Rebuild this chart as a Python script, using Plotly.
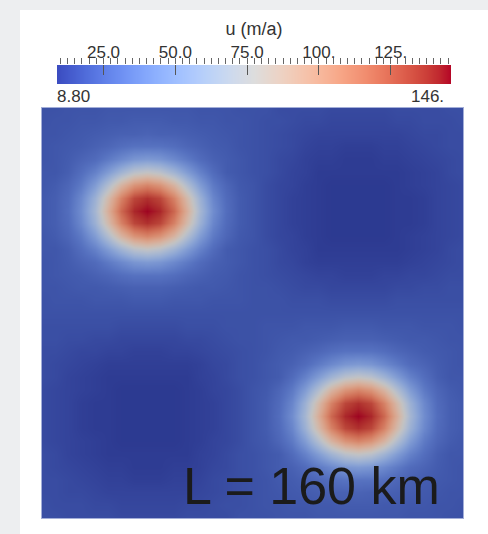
import plotly.graph_objects as go

W, H = 488, 534

# ---------------- data ----------------
x_km = [0, 5, 10, 15, 20, 25, 30, 35, 40, 45, 50, 55, 60, 65, 70, 75, 80,
        85, 90, 95, 100, 105, 110, 115, 120, 125, 130, 135, 140, 145, 150, 155, 160]
y_km = [0, 5, 10, 15, 20, 25, 30, 35, 40, 45, 50, 55, 60, 65, 70, 75, 80,
        85, 90, 95, 100, 105, 110, 115, 120, 125, 130, 135, 140, 145, 150, 155, 160]

# surface speed u (m/a), rows from y = 0 km (bottom) to y = 160 km (top)
u_rows = [
    [17,17,16,16,16,16,15,15,15,15,15,16,16,16,16,18,18,18,19,19,19,20,20,20,20,20,20,20,19,19,19,18,18],
    [17,16,16,16,15,15,14,14,14,14,14,15,15,16,17,17,18,19,19,20,20,21,21,22,22,22,21,21,20,20,19,19,18],
    [16,16,15,15,14,13,13,13,13,13,13,13,14,15,16,17,18,19,20,21,22,23,24,24,25,24,24,23,22,21,20,19,19],
    [16,16,15,14,13,12,12,11,11,11,12,12,13,15,16,17,18,19,21,22,24,26,29,31,31,31,29,26,24,22,21,20,19],
    [16,15,14,13,12,11,11,10,10,10,11,11,12,14,15,17,18,20,22,24,28,34,40,46,48,46,40,34,28,25,22,20,19],
    [16,15,13,12,11,10,10,10,10,10,10,10,12,13,15,17,18,20,22,28,37,49,62,73,77,73,62,49,37,29,23,20,20],
    [15,14,13,12,11,10,9,9,9,9,9,10,11,13,14,16,19,21,26,34,49,69,91,107,113,107,91,69,49,34,26,22,20],
    [15,14,13,11,10,10,9,9,9,9,9,10,11,12,14,16,19,22,28,39,60,87,114,133,139,133,114,87,60,40,28,23,21],
    [15,14,13,11,10,10,9,9,9,9,9,10,11,12,14,16,19,22,29,42,64,94,123,141,146,141,123,94,64,42,29,23,21],
    [15,14,13,11,10,10,9,9,9,9,9,10,11,12,14,16,19,22,28,39,60,87,114,133,139,133,114,87,60,40,28,23,21],
    [15,14,13,12,11,10,9,9,9,9,9,10,11,13,14,16,19,21,26,34,49,69,91,107,113,107,91,69,49,34,26,22,20],
    [16,15,13,12,11,10,10,10,10,10,10,10,12,13,15,17,18,20,22,28,37,49,62,73,77,73,62,49,37,29,23,20,20],
    [16,15,14,13,12,11,11,11,11,11,11,11,12,14,15,17,18,20,22,24,28,34,40,46,48,46,40,34,28,25,22,20,19],
    [16,16,15,14,14,13,13,12,12,12,13,13,14,15,16,17,18,19,21,22,24,26,29,31,31,31,29,26,24,22,21,20,19],
    [17,17,16,16,15,15,14,14,14,14,14,15,15,16,17,18,18,19,20,21,21,22,23,24,24,24,23,22,21,21,20,19,19],
    [17,17,17,17,17,17,16,16,16,16,16,17,17,17,18,18,18,19,19,19,20,20,20,21,21,21,20,20,20,19,19,19,18],
    [18,18,18,18,18,18,18,18,18,18,18,18,18,18,18,18,18,18,18,18,18,18,18,18,18,18,18,18,18,18,18,18,18],
    [18,19,19,19,20,20,20,21,21,21,20,20,20,19,19,19,18,18,18,17,17,17,16,16,16,16,16,17,17,17,17,17,17],
    [19,19,20,21,21,22,23,24,24,24,23,22,21,21,20,19,18,18,17,16,15,15,14,14,14,14,14,15,15,16,16,17,17],
    [19,20,21,22,24,26,29,31,31,31,29,26,24,22,21,19,18,17,16,15,14,13,13,12,12,12,13,13,14,14,15,16,16],
    [19,20,22,25,28,34,40,46,48,46,40,34,28,24,22,20,18,17,15,14,12,11,11,11,11,11,11,11,12,13,14,15,16],
    [20,20,23,29,37,49,62,73,77,73,62,49,37,28,22,20,18,17,15,13,12,10,10,10,10,10,10,10,11,12,13,15,16],
    [20,22,26,34,49,69,91,107,113,107,91,69,49,34,26,21,19,16,14,13,11,10,9,9,9,9,9,10,11,12,13,14,15],
    [21,23,28,40,60,87,114,133,139,133,114,87,60,39,28,22,19,16,14,12,11,10,9,9,9,9,9,10,10,11,13,14,15],
    [21,23,29,42,64,94,123,141,146,141,123,94,64,42,29,22,19,16,14,12,11,10,9,9,9,9,9,10,10,11,13,14,15],
    [21,23,28,40,60,87,114,133,139,133,114,87,60,39,28,22,19,16,14,12,11,10,9,9,9,9,9,10,10,11,13,14,15],
    [20,22,26,34,49,69,91,107,113,107,91,69,49,34,26,21,19,16,14,13,11,10,9,9,9,9,9,10,11,12,13,14,15],
    [20,20,23,29,37,49,62,73,77,73,62,49,37,28,22,20,18,17,15,13,12,10,10,10,10,10,10,10,11,12,13,15,16],
    [19,20,22,25,28,34,40,46,48,46,40,34,28,24,22,20,18,17,15,14,12,11,11,10,10,10,11,11,12,13,14,15,16],
    [19,20,21,22,24,26,29,31,31,31,29,26,24,22,21,19,18,17,16,15,13,12,12,11,11,11,12,12,13,14,15,16,16],
    [19,19,20,21,22,23,24,24,25,24,24,23,22,21,20,19,18,17,16,15,14,13,13,13,13,13,13,13,14,15,15,16,16],
    [18,19,19,20,20,21,21,22,22,22,21,21,20,20,19,19,18,17,17,16,15,15,14,14,14,14,14,15,15,16,16,16,17],
    [18,18,19,19,19,20,20,20,20,20,20,20,19,19,19,18,18,18,16,16,16,16,15,15,15,15,15,16,16,16,16,17,17],
]

u_min, u_max = 8.80, 146.0
cb_tickvals = [25, 50, 75, 100, 125]
cb_ticktext = ["25.0", "50.0", "75.0", "100.", "125."]
cb_title = "u (m/a)"
label_text = "L = 160 km"

# ---------------- style ----------------
cool_warm = [
    (0.00000, (59, 76, 192)), (0.03125, (68, 90, 204)), (0.06250, (77, 104, 215)),
    (0.09375, (87, 117, 225)), (0.12500, (98, 130, 234)), (0.15625, (108, 142, 241)),
    (0.18750, (119, 154, 247)), (0.21875, (130, 165, 251)), (0.25000, (141, 176, 254)),
    (0.28125, (152, 185, 255)), (0.31250, (163, 194, 255)), (0.34375, (174, 201, 253)),
    (0.37500, (184, 208, 249)), (0.40625, (194, 213, 244)), (0.43750, (204, 217, 238)),
    (0.46875, (213, 219, 230)), (0.50000, (221, 221, 221)), (0.53125, (229, 216, 209)),
    (0.56250, (236, 211, 197)), (0.59375, (241, 204, 185)), (0.62500, (245, 196, 173)),
    (0.65625, (247, 187, 160)), (0.68750, (247, 177, 148)), (0.71875, (247, 166, 135)),
    (0.75000, (244, 154, 123)), (0.78125, (241, 141, 111)), (0.81250, (236, 127, 99)),
    (0.84375, (229, 112, 88)), (0.87500, (222, 96, 77)), (0.90625, (213, 80, 66)),
    (0.93750, (203, 62, 56)), (0.96875, (192, 40, 47)), (1.00000, (180, 4, 38)),
]
bright_scale = [[t, "rgb(%d,%d,%d)" % c] for t, c in cool_warm]

# shaded version used for the lit surface (blues appear darker than the legend)
def shade(t):
    if t <= 0.5:
        return 0.75 + 0.26 * t
    return 0.88

shaded_scale = [[t, "rgb(%d,%d,%d)" % tuple(min(255, int(round(v * shade(t)))) for v in c)]
                for t, c in cool_warm]

FONT = "Liberation Sans, Arial, sans-serif"

def px_x(p):
    return p / W

def px_y(p):
    return (H - p) / H

fig = go.Figure()

fig.add_trace(go.Heatmap(
    x=x_km, y=y_km, z=u_rows, zmin=u_min, zmax=u_max,
    colorscale=shaded_scale, zsmooth="best", showscale=False,
    hoverinfo="skip", xaxis="x", yaxis="y",
))

# color bar drawn as a gradient between the labelled extremes
fig.add_trace(go.Heatmap(
    x=[u_min, u_max], y=[0, 1], z=[[u_min, u_max], [u_min, u_max]],
    zmin=u_min, zmax=u_max, colorscale=bright_scale, zsmooth="best",
    showscale=False, hoverinfo="skip", xaxis="x2", yaxis="y2",
))

fig.update_layout(
    width=W, height=H,
    margin=dict(l=0, r=0, t=0, b=0),
    paper_bgcolor="#edeef0",
    plot_bgcolor="rgba(0,0,0,0)",
    showlegend=False,
    font=dict(family=FONT, color="#333333"),
    xaxis=dict(domain=[px_x(42), px_x(463)], range=[0, 160], anchor="y",
               showticklabels=False, ticks="", showgrid=False, zeroline=False,
               showline=True, linecolor="#a3aed8", linewidth=1, mirror=True),
    yaxis=dict(domain=[px_y(518), px_y(108)], range=[0, 160], anchor="x",
               showticklabels=False, ticks="", showgrid=False, zeroline=False,
               showline=True, linecolor="#a3aed8", linewidth=1, mirror=True),
    xaxis2=dict(domain=[px_x(57), px_x(451)], range=[u_min, u_max], anchor="y2",
                side="top", tickmode="array", tickvals=cb_tickvals, ticktext=cb_ticktext,
                ticks="inside", ticklen=10, tickwidth=1, tickcolor="#555555",
                minor=dict(tickmode="linear", tick0=0, dtick=2.5, ticks="outside",
                           ticklen=6, tickwidth=1, tickcolor="#666666", showgrid=False),
                ticklabelstandoff=3,
                showgrid=False, zeroline=False, showline=False,
                tickfont=dict(family=FONT, size=17, color="#333333"),
                title=dict(text=cb_title, font=dict(family=FONT, size=18, color="#333333"),
                           standoff=2)),
    yaxis2=dict(domain=[px_y(84), px_y(65)], range=[0, 1], anchor="x2", visible=False),
    shapes=[dict(type="rect", xref="paper", yref="paper", layer="below",
                 x0=px_x(20), x1=1.01, y0=-0.01, y1=px_y(10),
                 fillcolor="white", line=dict(width=0))],
    annotations=[
        dict(text="%.2f" % u_min, xref="x2", yref="paper", x=u_min, y=px_y(96),
             xanchor="left", yanchor="middle", showarrow=False, xshift=-2,
             font=dict(family=FONT, size=17, color="#333333")),
        dict(text="%d." % round(u_max), xref="x2", yref="paper", x=u_max, y=px_y(96),
             xanchor="right", yanchor="middle", showarrow=False, xshift=-5,
             font=dict(family=FONT, size=17, color="#333333")),
        dict(text=label_text, xref="paper", yref="paper", x=px_x(442), y=px_y(517),
             xanchor="right", yanchor="bottom", showarrow=False,
             font=dict(family=FONT, size=52, color="#1b1b1b")),
    ],
)

fig.write_html("out.html")
